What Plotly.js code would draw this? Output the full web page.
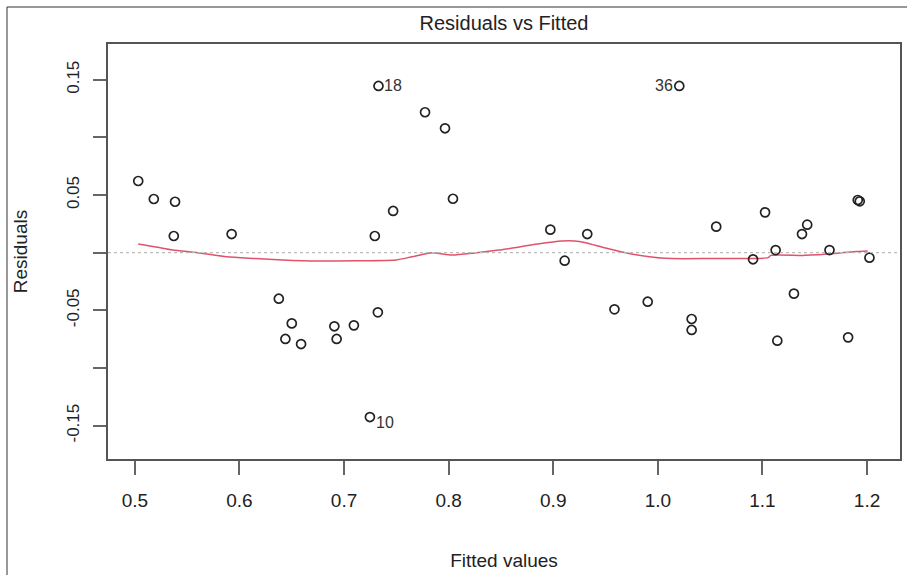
<!DOCTYPE html>
<html>
<head>
<meta charset="utf-8">
<script src="https://cdn.plot.ly/plotly-3.0.1.min.js"></script>
<style>html,body{margin:0;padding:0;background:#fff;}#chart{width:907px;height:575px;}</style>
</head>
<body>
<div id="chart"></div>
<script>
// Fitted values and residuals
var fitted = [0.5032,0.5181,0.5384,0.5372,0.5925,0.7329,0.7774,0.7965,0.8041,0.7469,0.7294,1.0205,0.8972,0.9109,0.9325,1.0558,1.0910,1.1025,1.1126,1.1378,1.1428,1.1641,1.1911,1.1930,1.2023,0.6376,0.6500,0.6439,0.6589,0.6907,0.6929,0.7094,0.7323,0.7247,0.9585,0.9903,1.0323,1.0323,1.1301,1.1142,1.1819];
var residuals = [0.0622,0.0466,0.0442,0.0145,0.0162,0.1446,0.1218,0.1079,0.0468,0.0362,0.0145,0.1446,0.0200,-0.0069,0.0162,0.0226,-0.0057,0.0350,0.0023,0.0162,0.0243,0.0023,0.0457,0.0446,-0.0043,-0.0399,-0.0613,-0.0748,-0.0792,-0.0638,-0.0748,-0.0630,-0.0517,-0.1425,-0.0491,-0.0425,-0.0575,-0.0670,-0.0355,-0.0763,-0.0734];

// Smoother (lowess) line
var smoothX = [0.5032,0.5200,0.5362,0.5600,0.5877,0.6150,0.6411,0.6764,0.7100,0.7498,0.7650,0.7841,0.8031,0.8250,0.8480,0.8604,0.8850,0.9080,0.9200,0.9309,0.9500,0.9747,1.0070,1.0500,1.1053,1.1080,1.1406,1.1720,1.1900,1.2006];
var smoothY = [0.0075,0.0050,0.0023,0.0000,-0.0035,-0.0050,-0.0063,-0.0072,-0.0070,-0.0063,-0.0035,0.0000,-0.0020,-0.0002,0.0023,0.0040,0.0075,0.0101,0.0102,0.0087,0.0040,-0.0011,-0.0049,-0.0050,-0.0043,-0.0023,-0.0023,-0.0005,0.0010,0.0015];

// Labelled observations
var labelIdx = [5, 11, 33];
var labelText = ["18", "36", "10"];
var labelSide = ["right", "left", "right"];

// Axis ticks
var xTicks = [0.5,0.6,0.7,0.8,0.9,1.0,1.1,1.2];
var xTickText = ["0.5","0.6","0.7","0.8","0.9","1.0","1.1","1.2"];
var yTicks = [-0.15,-0.10,-0.05,0.00,0.05,0.10,0.15];
var yTickText = ["-0.15","","-0.05","","0.05","","0.15"];

var normal = "'Liberation Sans', Arial, sans-serif";

var traces = [
  {x: smoothX, y: smoothY, mode: 'lines', type: 'scatter',
   line: {color: '#DF536B', width: 1.5, shape: 'spline', smoothing: 0.6}, hoverinfo: 'skip'},
  {x: fitted, y: residuals, mode: 'markers', type: 'scatter',
   marker: {symbol: 'circle-open', size: 9, color: '#222', line: {width: 1.7, color: '#222'}}}
];

var annotations = labelIdx.map(function(i, k){
  var right = labelSide[k] === 'right';
  return {x: fitted[i], y: residuals[i], xref: 'x', yref: 'y', text: labelText[k],
    showarrow: false, xanchor: right ? 'left' : 'right', yanchor: 'middle',
    xshift: right ? 4 : -4, yshift: k === 2 ? -5 : 0,
    font: {family: normal, size: 16, color: '#333'}};
});

var layout = {
  width: 907, height: 575,
  margin: {l: 108, r: 7, t: 44, b: 116, pad: 0},
  paper_bgcolor: '#fff', plot_bgcolor: '#fff',
  showlegend: false,
  title: {text: 'Residuals vs Fitted', xref: 'paper', x: 0.5, xanchor: 'center',
          y: 1 - 23/575, yanchor: 'middle',
          font: {family: normal, size: 20, color: '#222'}},
  xaxis: {range: [0.4743, 1.2315], tickvals: xTicks, ticktext: xTickText,
    showgrid: false, zeroline: false, showline: true, mirror: true, linecolor: '#555', linewidth: 2,
    ticks: 'outside', ticklen: 14, tickwidth: 2, tickcolor: '#666',
    ticklabelstandoff: 9,
    tickfont: {family: normal, size: 19, color: '#222'},
    title: {text: 'Fitted values', standoff: 44, font: {family: normal, size: 19, color: '#222'}}},
  yaxis: {range: [-0.1789, 0.1810], tickvals: yTicks, ticktext: yTickText, tickangle: -90,
    showgrid: false, zeroline: false, showline: true, mirror: true, linecolor: '#555', linewidth: 2,
    ticks: 'outside', ticklen: 13, tickwidth: 2, tickcolor: '#666',
    ticklabelstandoff: 7,
    tickfont: {family: normal, size: 17, color: '#222'},
    title: {text: 'Residuals', standoff: 32, font: {family: normal, size: 19, color: '#222'}}},
  shapes: [
    {type: 'line', xref: 'paper', yref: 'y', x0: 0, x1: 1, y0: 0, y1: 0,
     line: {color: '#bbbbbb', width: 1.2, dash: 'dot'}},
    {type: 'rect', xref: 'paper', yref: 'paper', x0: (7-108)/792, x1: 1.05, y0: -0.5, y1: 1 + (44-7)/415,
     line: {color: '#333', width: 1}, fillcolor: 'rgba(0,0,0,0)', layer: 'below'}
  ],
  annotations: annotations
};

Plotly.newPlot('chart', traces, layout, {displayModeBar: false, staticPlot: true});
</script>
</body>
</html>
